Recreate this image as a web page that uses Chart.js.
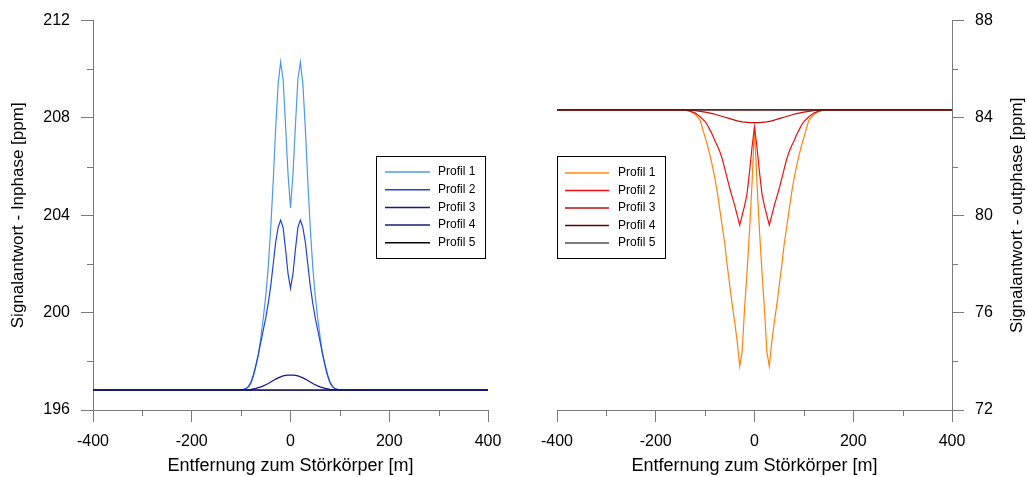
<!DOCTYPE html>
<html><head><meta charset="utf-8">
<script src="https://cdn.jsdelivr.net/npm/chart.js@4.4.0/dist/chart.umd.min.js"></script>
<style>
html,body{margin:0;padding:0;background:#fff;overflow:hidden;}
#wrap{position:relative;width:1027px;height:477px;}
#c1{position:absolute;left:0;top:0;}
#c2{position:absolute;left:514px;top:0;}
</style></head><body>
<div id="wrap">
<canvas id="c1" width="514" height="477"></canvas>
<canvas id="c2" width="513" height="477"></canvas>
</div>
<script>
// ---- data ----
const xs = [-400,-300,-200,-150,-140,-130,-120,-110,
  -100,-95,-90,-85,-80,-75,-70,-65,-60,-55,-50,-45,-40,-35,-30,-25,-20,-15,-10,-5,
  0,5,10,15,20,25,30,35,40,45,50,55,60,65,70,75,80,85,90,95,100,
  110,120,130,140,150,200,300,400];

const profileLabels = ['Profil 1','Profil 2','Profil 3','Profil 4','Profil 5'];

const inphaseP1 = [196.82,196.82,196.82,196.82,196.82,196.82,196.82,196.82,
  196.83,196.85,196.88,196.95,197.1,197.4,197.8,198.3,199.0,199.8,200.7,201.9,203.5,205.4,207.6,209.4,210.3,209.6,207.7,205.7,
  204.3,205.7,207.7,209.6,210.3,209.4,207.6,205.4,203.5,201.9,200.7,199.8,199.0,198.3,197.8,197.4,197.1,196.95,196.88,196.85,196.83,
  196.82,196.82,196.82,196.82,196.82,196.82,196.82,196.82];
const inphaseP2 = [196.82,196.82,196.82,196.82,196.82,196.82,196.82,196.82,
  196.83,196.85,196.88,196.97,197.15,197.45,197.85,198.3,198.8,199.3,199.8,200.4,201.1,202.0,202.9,203.5,203.8,203.5,202.6,201.6,
  201.0,201.6,202.6,203.5,203.8,203.5,202.9,202.0,201.1,200.4,199.8,199.3,198.8,198.3,197.85,197.45,197.15,196.97,196.88,196.85,196.83,
  196.82,196.82,196.82,196.82,196.82,196.82,196.82,196.82];
const inphaseP3 = [196.82,196.82,196.82,196.82,196.82,196.82,196.82,196.82,
  196.82,196.82,196.83,196.84,196.85,196.87,196.89,196.92,196.95,196.99,197.04,197.09,197.15,197.21,197.27,197.32,197.36,197.40,197.42,197.43,
  197.43,197.43,197.42,197.40,197.36,197.32,197.27,197.21,197.15,197.09,197.04,196.99,196.95,196.92,196.89,196.87,196.85,196.84,196.83,196.82,196.82,
  196.82,196.82,196.82,196.82,196.82,196.82,196.82,196.82];
const inphaseP4 = [196.82,196.82,196.82];
const inphaseP5 = [196.82,196.82,196.82];
const flatXs = [-400,0,400];

const outphaseP1 = [84.33,84.33,84.33,84.33,84.32,84.27,84.15,83.9,
  83.2,82.85,82.45,82.0,81.5,80.9,80.2,79.5,78.8,77.9,77.1,76.3,75.6,74.8,73.8,74.4,76.2,77.7,79.4,81.3,
  83.63,81.3,79.4,77.7,76.2,74.4,73.8,74.8,75.6,76.3,77.1,77.9,78.8,79.5,80.2,80.9,81.5,82.0,82.45,82.85,83.2,
  83.9,84.15,84.27,84.32,84.33,84.33,84.33,84.33];
const outphaseP2 = [84.33,84.33,84.33,84.33,84.32,84.28,84.2,84.05,
  83.85,83.7,83.5,83.3,83.05,82.85,82.6,82.3,81.9,81.5,81.1,80.75,80.4,80.0,79.6,80.0,80.4,80.9,81.8,82.8,
  83.63,82.8,81.8,80.9,80.4,80.0,79.6,80.0,80.4,80.75,81.1,81.5,81.9,82.3,82.6,82.85,83.05,83.3,83.5,83.7,83.85,
  84.05,84.2,84.28,84.32,84.33,84.33,84.33,84.33];
const outphaseP3 = [84.33,84.33,84.33,84.33,84.33,84.32,84.3,84.27,
  84.24,84.22,84.2,84.18,84.15,84.12,84.09,84.06,84.03,84.0,83.97,83.94,83.91,83.88,83.86,83.84,83.83,83.82,83.81,83.81,
  83.81,83.81,83.81,83.82,83.83,83.84,83.86,83.88,83.91,83.94,83.97,84.0,84.03,84.06,84.09,84.12,84.15,84.18,84.2,84.22,84.24,
  84.27,84.3,84.32,84.33,84.33,84.33,84.33,84.33];
const outphaseP4 = [84.33,84.33,84.33];
const outphaseP5 = [84.33,84.33,84.33];

const xTicks = [-400,-200,0,200,400];
const xMinor = [-300,-100,100,300];
const inphaseTicks = [196,200,204,208,212];
const inphaseMinor = [198,202,206,210];
const outphaseTicks = [72,76,80,84,88];
const outphaseMinor = [74,78,82,86];

// ---- helpers ----
const FONT = '"Liberation Sans", Arial, Helvetica, sans-serif';
const AXIS = '#7a7a7a';
function pts(xv, yv){ return yv.map((y,i)=>({x:xv[i], y:y})); }

const decor = {
  id:'decor',
  afterDraw(chart, args, o){
    const ctx = chart.ctx, ca = chart.chartArea;
    const xS = chart.scales.x, yS = chart.scales.y;
    ctx.save();
    ctx.strokeStyle = AXIS; ctx.lineWidth = 1;
    o.minorX.forEach(v=>{
      const px = Math.round(xS.getPixelForValue(v)) + 0.5;
      ctx.beginPath(); ctx.moveTo(px, ca.bottom); ctx.lineTo(px, ca.bottom + 6); ctx.stroke();
    });
    o.minorY.forEach(v=>{
      const py = Math.round(yS.getPixelForValue(v)) + 0.5;
      const x0 = o.side === 'left' ? ca.left : ca.right;
      const d = o.side === 'left' ? -6 : 6;
      ctx.beginPath(); ctx.moveTo(x0, py); ctx.lineTo(x0 + d, py); ctx.stroke();
    });
    // titles
    ctx.fillStyle = '#000';
    ctx.textAlign = 'center'; ctx.textBaseline = 'middle';
    ctx.font = '18px ' + FONT;
    ctx.fillText(o.xTitle, (ca.left + ca.right) / 2, o.xTitleY);
    ctx.font = '17px ' + FONT;
    ctx.save();
    ctx.translate(o.yTitleX, (ca.top + ca.bottom) / 2);
    ctx.rotate(-Math.PI / 2);
    ctx.fillText(o.yTitle, 0, 0);
    ctx.restore();
    // legend box
    const L = o.legend;
    ctx.fillStyle = '#fff';
    ctx.fillRect(L.x, L.y, L.w, L.h);
    ctx.strokeStyle = '#000'; ctx.lineWidth = 1;
    ctx.strokeRect(L.x + 0.5, L.y + 0.5, L.w, L.h);
    ctx.font = '12px ' + FONT;
    ctx.textAlign = 'left'; ctx.textBaseline = 'middle';
    const dsSorted = chart.data.datasets.slice().sort((a,b)=>a.legendIndex-b.legendIndex);
    dsSorted.forEach((ds, i)=>{
      const yy = L.y + L.first + i * L.step;
      ctx.strokeStyle = ds.borderColor; ctx.lineWidth = ds.legendWidth || 1.5;
      ctx.beginPath(); ctx.moveTo(L.x + L.l0, yy); ctx.lineTo(L.x + L.l1, yy); ctx.stroke();
      ctx.fillStyle = '#000';
      ctx.fillText(ds.label, L.x + L.tx, yy);
    });
    ctx.restore();
  }
};

function makeDatasets(series, colors, xsList){
  const orderTop = [4,3,2,0,1];
  return series.map((s,i)=>({
    label: profileLabels[i],
    data: pts(xsList[i], s),
    borderColor: colors[i],
    borderWidth: 1.2,
    pointRadius: 0,
    tension: 0,
    fill: false,
    order: orderTop[i],
    legendIndex: i
  }));
}

function axisX(){
  return {
    type:'linear', min:-400, max:400,
    afterBuildTicks(s){ s.ticks = xTicks.map(v=>({value:v})); },
    ticks:{ font:{size:16, family:FONT}, color:'#000', padding:10, maxRotation:0, autoSkip:false },
    grid:{ display:true, drawOnChartArea:false, drawTicks:true, tickLength:12, tickColor:AXIS, color:AXIS },
    border:{ display:true, color:AXIS, width:1 },
    afterFit(s){ s.height = 67; }
  };
}
function axisY(pos, min, max, tickVals, w, pad){
  return {
    type:'linear', position:pos, min:min, max:max,
    afterBuildTicks(s){ s.ticks = tickVals.map(v=>({value:v})); },
    ticks:{ font:{size:16, family:FONT}, color:'#000', padding:pad },
    grid:{ display:true, drawOnChartArea:false, drawTicks:true, tickLength:12, tickColor:AXIS, color:AXIS },
    border:{ display:true, color:AXIS, width:1 },
    afterFit(s){ s.width = w; }
  };
}

const common = {
  responsive:false, animation:false, devicePixelRatio:1,
  plugins:{ legend:{display:false}, tooltip:{enabled:false} }
};

new Chart(document.getElementById('c1'), {
  type:'line',
  data:{ datasets: makeDatasets(
    [inphaseP1, inphaseP2, inphaseP3, inphaseP4, inphaseP5],
    ['#4c98ec','#2443e0','#16168e','#1c1c78','#000000'],
    [xs, xs, xs, flatXs, flatXs]) },
  options: Object.assign({}, common, {
    layout:{ padding:{ left:0, top:18, right:26, bottom:0 } },
    scales:{ x: axisX(), y: axisY('left', 196, 212, inphaseTicks, 93, 11) },
    plugins:{ legend:{display:false}, tooltip:{enabled:false},
      decor:{ side:'left', minorX:xMinor, minorY:inphaseMinor,
        xTitle:'Entfernung zum Störkörper [m]', xTitleY:466,
        yTitle:'Signalantwort - Inphase [ppm]', yTitleX:18,
        legend:{ x:376, y:156, w:109, h:102, first:16, step:17.7, l0:9, l1:54, tx:62 } } }
  }),
  plugins:[decor]
});

new Chart(document.getElementById('c2'), {
  type:'line',
  data:{ datasets: makeDatasets(
    [outphaseP1, outphaseP2, outphaseP3, outphaseP4, outphaseP5],
    ['#ff8410','#ee1010','#c40c0c','#600000','#505050'],
    [xs, xs, xs, flatXs, flatXs]) },
  options: Object.assign({}, common, {
    layout:{ padding:{ left:43, top:18, right:0, bottom:0 } },
    scales:{ x: axisX(), y: axisY('right', 72, 88, outphaseTicks, 75, 11) },
    plugins:{ legend:{display:false}, tooltip:{enabled:false},
      decor:{ side:'right', minorX:xMinor, minorY:outphaseMinor,
        xTitle:'Entfernung zum Störkörper [m]', xTitleY:466,
        yTitle:'Signalantwort - outphase [ppm]', yTitleX:503,
        legend:{ x:43, y:156, w:108, h:102, first:17, step:17.5, l0:8, l1:52, tx:61 } } }
  }),
  plugins:[decor]
});
</script>
</body></html>
